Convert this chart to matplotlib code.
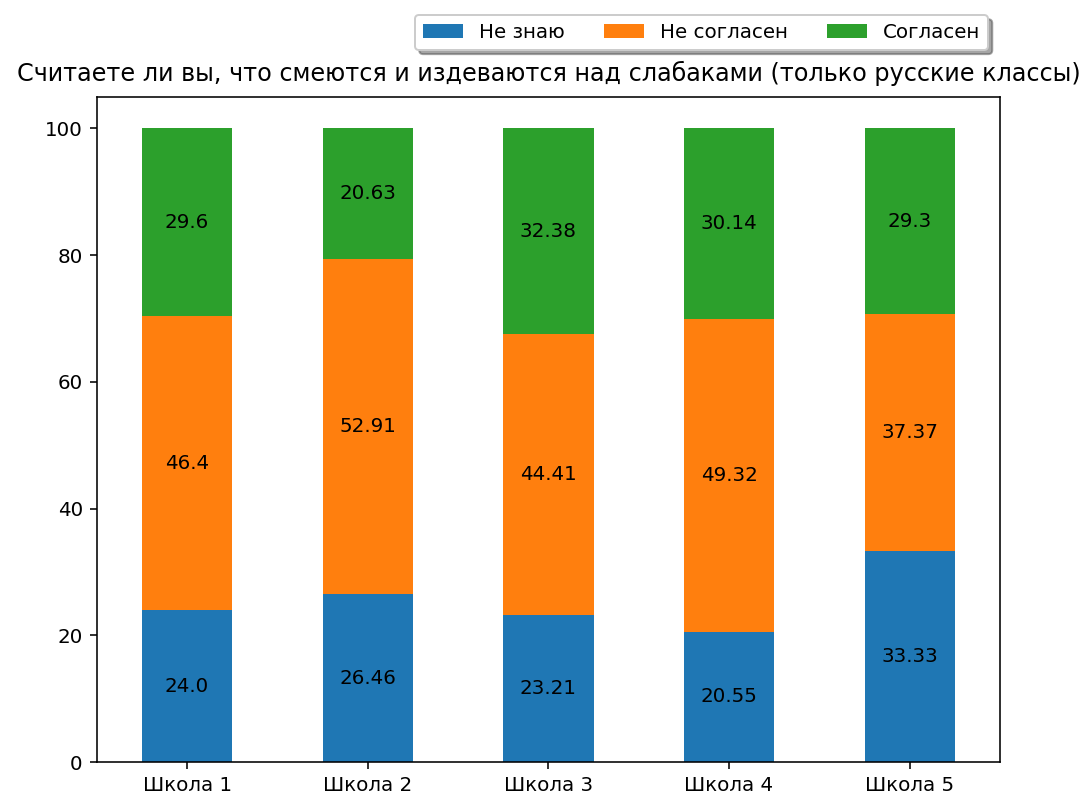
import matplotlib
matplotlib.use('Agg')
import matplotlib.pyplot as plt
import numpy as np

schools = ['Школа 1', 'Школа 2', 'Школа 3', 'Школа 4', 'Школа 5']
ne_znayu = [24.0, 26.46, 23.21, 20.55, 33.33]
ne_soglasen = [46.4, 52.91, 44.41, 49.32, 37.37]
soglasen = [29.6, 20.63, 32.38, 30.14, 29.3]
series_names = ['Не знаю', 'Не согласен', 'Согласен']
colors = ['#1f77b4', '#ff7f0e', '#2ca02c']

DPI = 143
fig = plt.figure(figsize=(1087 / DPI, 793 / DPI), dpi=DPI)
ax = fig.add_axes([0.089, 0.039, 0.831, 0.839])

x = np.arange(len(schools))
bottom = np.zeros(len(schools))
for name, vals, c in zip(series_names, [ne_znayu, ne_soglasen, soglasen], colors):
    vals = np.array(vals)
    ax.bar(x, vals, 0.5, bottom=bottom, color=c, label=name)
    for xi, b, v in zip(x, bottom, vals):
        ax.text(xi, b + v / 2, str(v), ha='center', va='center', fontsize=10)
    bottom += vals

ax.set_xticks(x)
ax.set_xticklabels(schools)
ax.set_xlim(-0.5, 4.5)
ax.set_title('Считаете ли вы, что смеются и издеваются над слабаками (только русские классы)', pad=8)
ax.legend(loc='lower right', bbox_to_anchor=(0.987, 1.07), ncol=3, shadow=True,
          borderaxespad=0, fontsize=10)

fig.savefig('out.png', dpi=DPI)
